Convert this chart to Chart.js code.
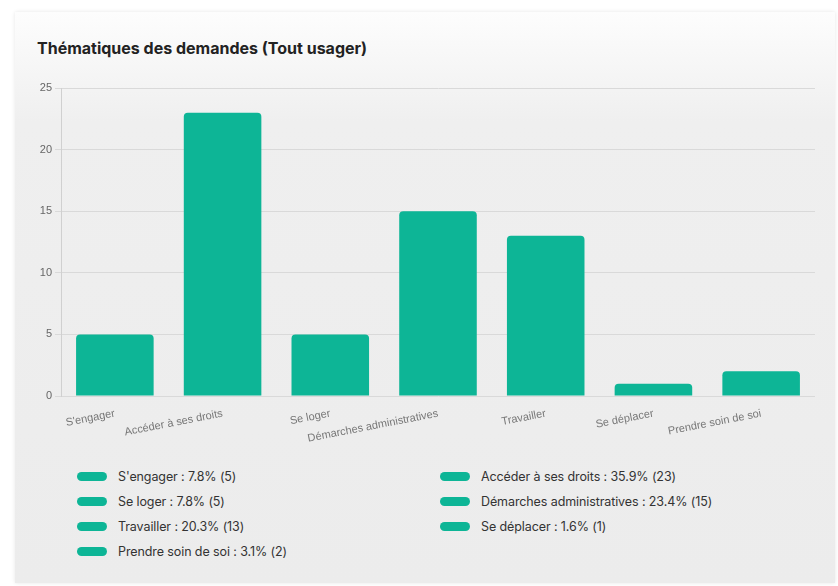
<!DOCTYPE html>
<html>
<head>
<meta charset="utf-8">
<script src="https://cdn.jsdelivr.net/npm/chart.js@4/dist/chart.umd.min.js"></script>
<style>
  body { margin: 0; background: #fff; width: 838px; height: 586px; position: relative; overflow: hidden; }
  .card {
    position: absolute; left: 15px; top: 12px; width: 820px; height: 571px;
    background: linear-gradient(to bottom, #fdfdfd 0px, #efefef 110px, #ececec 100%);
    box-shadow: 0 0 4px rgba(0,0,0,0.10);
  }
  h1 {
    position: absolute; left: 37px; top: 38px; margin: 0;
    font: bold 16px Inter, "Noto Sans", sans-serif; color: #222;
  }
  .chartBox { position: absolute; left: 0; top: 75px; width: 838px; height: 375px; }
  #legend {
    position: absolute; left: 77px; top: 467px; width: 740px;
    display: grid; grid-template-columns: 363px 363px; row-gap: 7px;
    font: 12.5px Inter, sans-serif; color: #333; letter-spacing: -0.1px;
  }
  #legend .item { display: flex; align-items: center; height: 18px; }
  #legend .pill { width: 30px; height: 9px; border-radius: 5px; margin-right: 11px; }
</style>
</head>
<body>
<div class="card"></div>
<h1>Thématiques des demandes (Tout usager)</h1>
<div class="chartBox"><canvas id="chart"></canvas></div>
<div id="legend"></div>
<script>
// catégories et nombre de demandes
const categories = ["S'engager", "Accéder à ses droits", "Se loger", "Démarches administratives", "Travailler", "Se déplacer", "Prendre soin de soi"];
const demandes = [5, 23, 5, 15, 13, 1, 2];
const yTicks = [0, 5, 10, 15, 20, 25];
const barColor = '#0db596';

// légende en html (deux colonnes)
const total = demandes.reduce((a, b) => a + b, 0);
const legend = document.getElementById('legend');
categories.forEach((cat, i) => {
    const item = document.createElement('div');
    item.className = 'item';
    const pill = document.createElement('span');
    pill.className = 'pill';
    pill.style.background = barColor;
    const label = document.createElement('span');
    label.innerText = cat + ' : ' + (demandes[i] / total * 100).toFixed(1) + '% (' + demandes[i] + ')';
    item.appendChild(pill);
    item.appendChild(label);
    legend.appendChild(item);
});

const ctx = document.getElementById('chart').getContext('2d');
new Chart(ctx, {
    type: 'bar',
    data: {
        labels: categories,
        datasets: [{
            label: 'Demandes',
            data: demandes,
            backgroundColor: barColor,
            borderRadius: 4
        }]
    },
    options: {
        responsive: true,
        maintainAspectRatio: false,
        animation: false,
        layout: { padding: { top: 13, right: 23, left: 0, bottom: 0 } },
        plugins: { legend: { display: false } },
        scales: {
            y: {
                min: yTicks[0],
                max: yTicks[yTicks.length - 1],
                afterFit: s => { s.width = 61; },
                afterBuildTicks: s => { s.ticks = yTicks.map(v => ({ value: v })); },
                ticks: { color: '#666', font: { size: 11, family: 'Liberation Sans, Arial, sans-serif' }, padding: 3 },
                grid: { color: '#d9d9d9', tickLength: 6 },
                border: { color: '#d0d0d0' }
            },
            x: {
                afterFit: s => { s.height = 54; },
                ticks: {
                    color: '#777', autoSkip: false, minRotation: 11, maxRotation: 11,
                    font: { size: 11, family: 'Liberation Sans, Arial, sans-serif' }
                },
                grid: { display: false },
                border: { display: false }
            }
        }
    }
});
</script>
</body>
</html>
